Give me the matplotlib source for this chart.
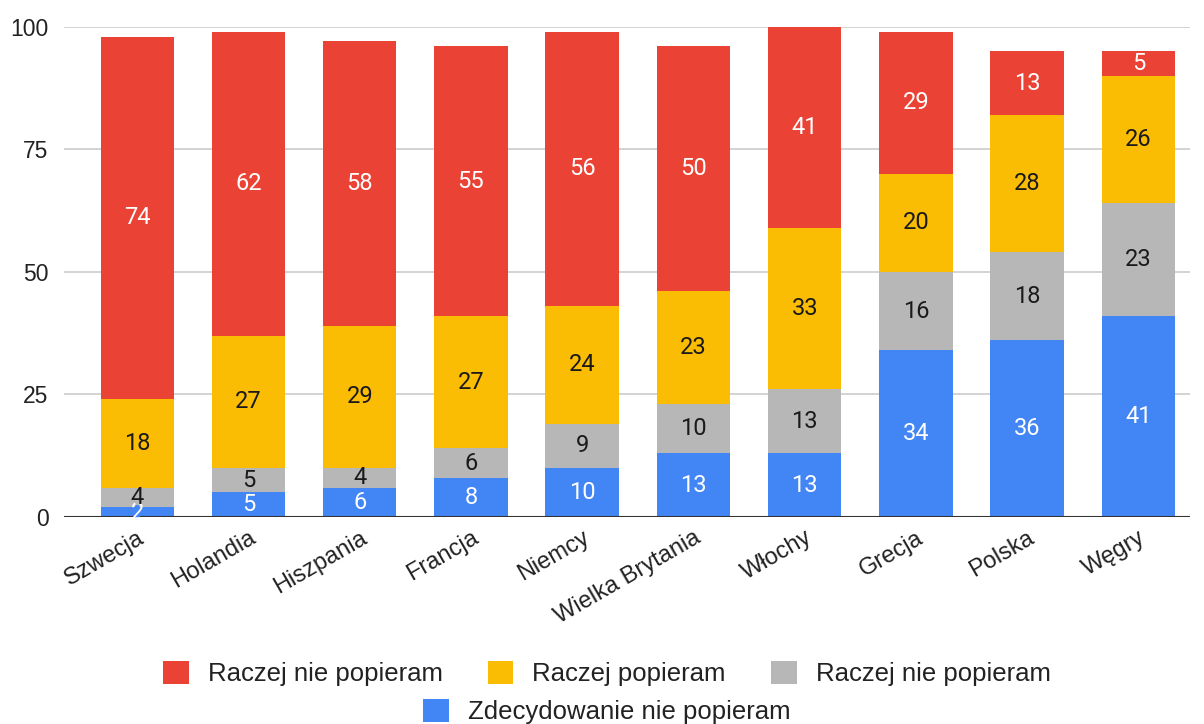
import matplotlib.pyplot as plt
import numpy as np
from matplotlib.patches import Patch

plt.rcParams['font.family'] = ['Liberation Sans', 'DejaVu Sans']

# Survey results per country (percent)
countries = ['Szwecja', 'Holandia', 'Hiszpania', 'Francja', 'Niemcy',
             'Wielka Brytania', 'Włochy', 'Grecja', 'Polska', 'Węgry']
zdecydowanie_nie = [2, 5, 6, 8, 10, 13, 13, 34, 36, 41]
raczej_nie_szary = [4, 5, 4, 6, 9, 10, 13, 16, 18, 23]
raczej_popieram = [18, 27, 29, 27, 24, 23, 33, 20, 28, 26]
raczej_nie_czerwony = [74, 62, 58, 55, 56, 50, 41, 29, 13, 5]

series = [
    ('Zdecydowanie nie popieram', zdecydowanie_nie, '#4285F4', 'white'),
    ('Raczej nie popieram', raczej_nie_szary, '#B7B7B7', '#1a1a1a'),
    ('Raczej popieram', raczej_popieram, '#FBBC04', '#1a1a1a'),
    ('Raczej nie popieram', raczej_nie_czerwony, '#EA4335', 'white'),
]

fig = plt.figure(figsize=(12.04, 7.24), dpi=100)
ax = fig.add_axes([0.053, 0.286, 0.935, 0.677])

x = np.arange(len(countries))
bottom = np.zeros(len(countries))
handles = {}
for name, vals, color, tcolor in series:
    vals = np.array(vals, dtype=float)
    ax.bar(x, vals, bottom=bottom, width=0.66, color=color, zorder=3)
    for xi, b, v in zip(x, bottom, vals):
        # tight rounded backdrop so labels on thin segments stay readable
        ax.text(xi, b + v / 2, f'{int(v)}', ha='center', va='center',
                fontsize=17, color=tcolor, zorder=5, family=['Roboto', 'DejaVu Sans'],
                bbox=dict(boxstyle='round,pad=-0.16,rounding_size=0.2',
                          fc=color, ec='none'))
    handles[color] = Patch(facecolor=color, edgecolor='none', label=name)
    bottom += vals

ax.set_ylim(0, 100)
ax.set_xlim(-0.66, 9.46)
ax.set_yticks([0, 25, 50, 75, 100])
ax.yaxis.grid(True, color='#cccccc', linewidth=1.2, zorder=0)
ax.axhline(0, color='#333333', linewidth=1.5, zorder=4)
for s in ax.spines.values():
    s.set_visible(False)
ax.tick_params(axis='both', length=0, labelcolor='#222222')
ax.tick_params(axis='y', pad=11, labelsize=16.5)
ax.set_xticks(x)
ax.set_xticklabels(countries, rotation=30, ha='right', rotation_mode='anchor')
ax.tick_params(axis='x', pad=7, labelsize=17)

# Legend: three entries on the first row, one below
legend_kw = dict(loc='center', frameon=False, fontsize=18.5, handlelength=1.0,
                 handleheight=1.0, handletextpad=0.74, labelcolor='#222222')
top_row = [handles['#EA4335'], handles['#FBBC04'], handles['#B7B7B7']]
fig.legend(handles=top_row, bbox_to_anchor=(0.504, 0.07), ncol=3,
           columnspacing=1.75, **legend_kw)
fig.legend(handles=[handles['#4285F4']], bbox_to_anchor=(0.504, 0.017),
           **legend_kw)

fig.savefig('out.png', dpi=100, facecolor='white')
